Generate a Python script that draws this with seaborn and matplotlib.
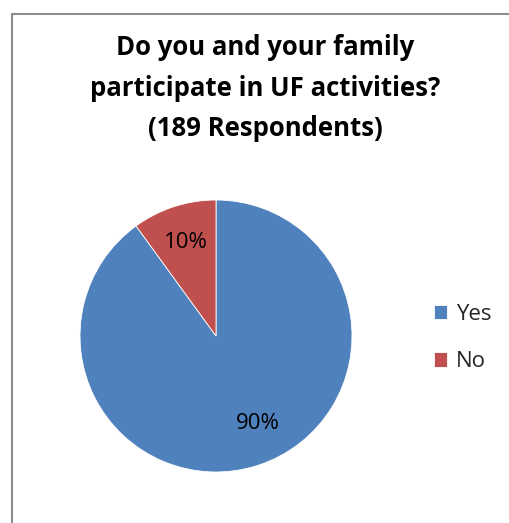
import matplotlib
matplotlib.use("Agg")
import matplotlib.pyplot as plt
import seaborn as sns
from matplotlib.lines import Line2D

# data
labels = ["Yes", "No"]
shares = [90, 10]
colors = ["#4F81BD", "#C0504D"]
title = "Do you and your family\nparticipate in UF activities?\n(189 Respondents)"

sns.set_theme(style="white")
plt.rcParams['font.family'] = ['Open Sans', 'DejaVu Sans']

W, H = 510, 523
fig = plt.figure(figsize=(W / 100, H / 100), dpi=100)

# grey frame (only left and top visible)
fig.add_artist(Line2D([12 / W, 12 / W], [0, 1 - 14 / H], color="#8c8c8c", lw=1.5))
fig.add_artist(Line2D([12 / W, 1], [1 - 14 / H, 1 - 14 / H], color="#8c8c8c", lw=1.5))

fig.text(265 / W, 1 - 88 / H, title, ha="center", va="center",
         fontsize=18.5, fontweight="bold", linespacing=1.65, color="black")

# pie: centre (216, 336) px, radius 136 px
ax = fig.add_axes([80 / W, (H - 472) / H, 272 / W, 272 / H])
wedges, texts, autotexts = ax.pie(shares, colors=colors, startangle=90, counterclock=False,
                                  autopct="%d%%", pctdistance=0.72,
                                  wedgeprops=dict(linewidth=0.6, edgecolor="white"),
                                  textprops=dict(fontsize=16, color="black"))
# Excel puts the big label lower right of the bottom
autotexts[0].set_position((0.31, -0.64))
ax.set_xlim(-1, 1)
ax.set_ylim(-1, 1)
ax.set_aspect("equal")
ax.axis("off")

fig.legend(wedges, labels, loc="center left", bbox_to_anchor=(414 / W, 1 - 338 / H),
           frameon=False, fontsize=16, handlelength=0.6, handleheight=0.6,
           handletextpad=0.4, labelspacing=1.2)

fig.savefig("out.png", dpi=100)
